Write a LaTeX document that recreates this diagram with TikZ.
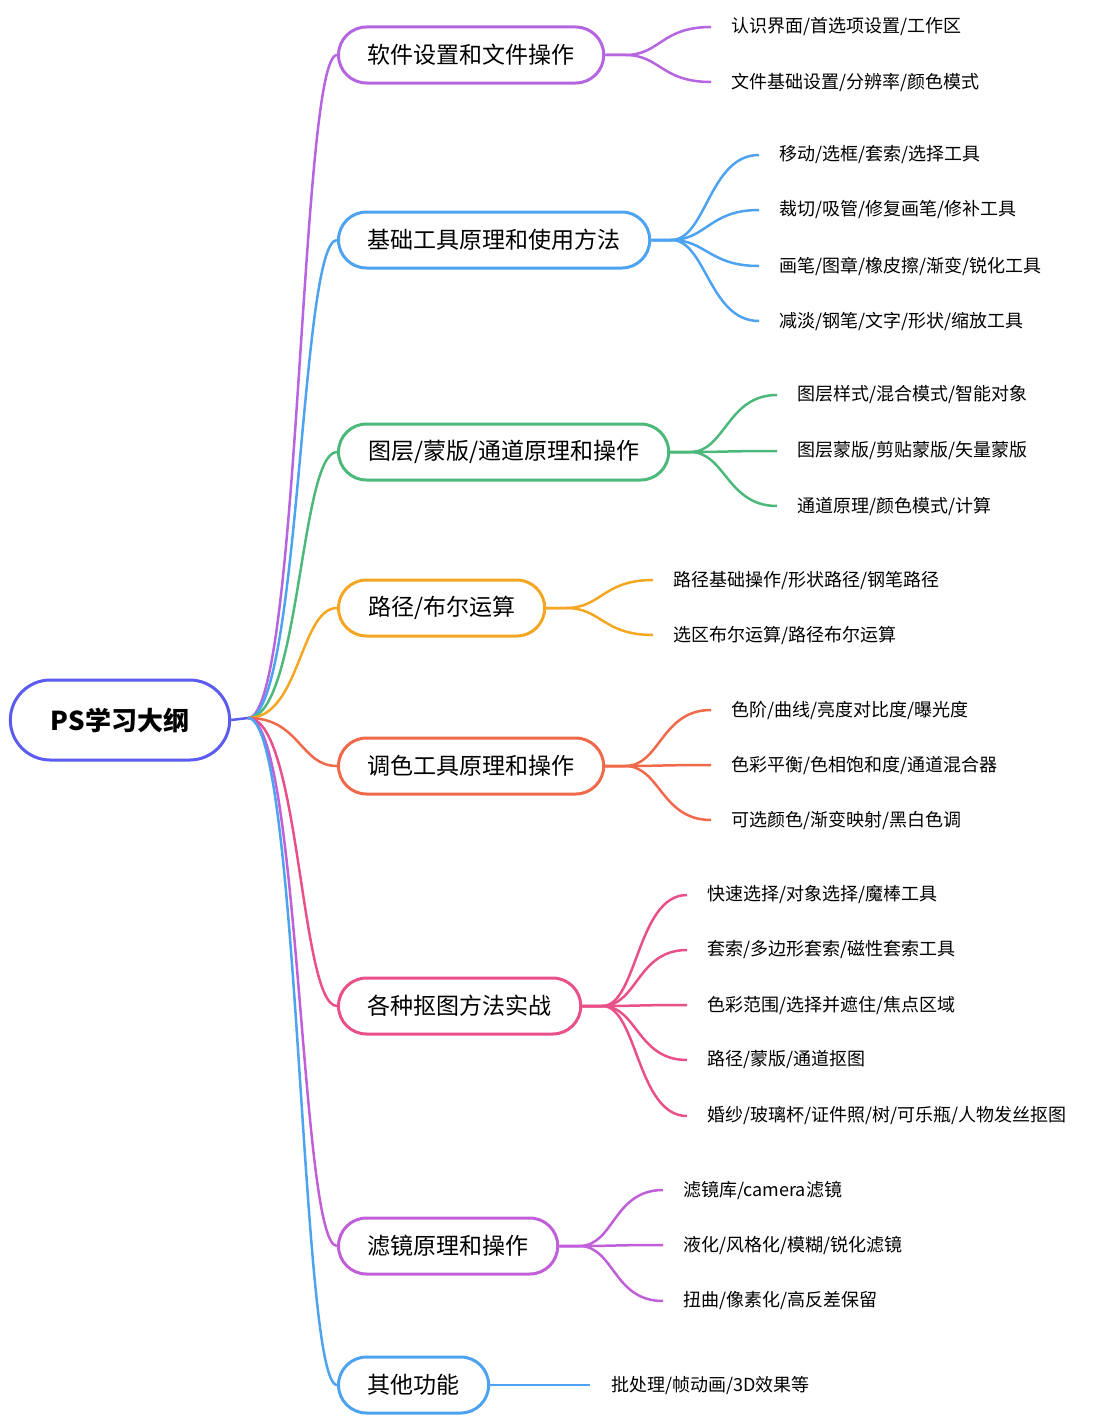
\documentclass[tikz,border=0pt]{standalone}
\usepackage{fontspec}
\setmainfont{Noto Sans CJK SC}
\usetikzlibrary{shapes.misc}
\definecolor{cRoot}{HTML}{5A5CF0}
\definecolor{cA}{HTML}{B565E0}
\definecolor{cB}{HTML}{4DA3F0}
\definecolor{cC}{HTML}{4CB87A}
\definecolor{cD}{HTML}{F5A623}
\definecolor{cE}{HTML}{F0694A}
\definecolor{cF}{HTML}{E9508A}
\definecolor{cG}{HTML}{C05FD8}
\tikzset{
 topic/.style={draw=#1,line width=3pt,rounded rectangle,fill=white,minimum height=56pt,inner xsep=27pt,font=\fontsize{23pt}{27pt}\selectfont},
 leaf/.style={anchor=west,inner sep=0pt,font=\fontsize{18pt}{22pt}\selectfont},
 link/.style={draw=#1,line width=2.5pt}
}
\newcommand{\branch}[5]{% name, color, yc, leafx, list of y/{text}
 \foreach \ly/\lt [count=\i] in {#5} {
   \node[leaf] (#1l\i) at (#4,\ly) {\lt};
   \coordinate (#1e\i) at ([xshift=-20pt]#1l\i.west);
   \path[link=#2] (#1.east) -- ([xshift=20pt]#1.east) .. controls ([xshift=55pt]#1.east) and ([xshift=-50pt]#1e\i) .. (#1e\i);
 }}
\begin{document}
\begin{tikzpicture}[x=1pt,y=-1pt]
\useasboundingbox (0,0) rectangle (1116,1421);
\node[draw=cRoot,line width=3pt,rounded rectangle,minimum width=226pt,minimum height=80pt,font=\fontsize{26pt}{30pt}\selectfont\bfseries] (root) at (120,720) {PS学习大纲};
\coordinate (rs) at (248,718);
\path[link=cRoot] (root.east) -- (rs);
\foreach \y/\c in {55/cA, 240/cB, 452/cC, 608/cD, 766/cE, 1006/cF, 1246/cG, 1385/cB}{
  \path[link=\c] (rs) .. controls (300,718) and (300,\y) .. (337,\y);
}
\node[topic=cA,anchor=west] (a) at (337,55) {软件设置和文件操作};
\node[topic=cB,anchor=west] (b) at (337,240) {基础工具原理和使用方法};
\node[topic=cC,anchor=west] (c) at (337,452) {图层/蒙版/通道原理和操作};
\node[topic=cD,anchor=west] (d) at (337,608) {路径/布尔运算};
\node[topic=cE,anchor=west] (e) at (337,766) {调色工具原理和操作};
\node[topic=cF,anchor=west] (f) at (337,1006) {各种抠图方法实战};
\node[topic=cG,anchor=west] (g) at (337,1246) {滤镜原理和操作};
\node[topic=cB,anchor=west] (h) at (337,1385) {其他功能};
\branch{a}{cA}{55}{731}{27/{认识界面/首选项设置/工作区}, 82/{文件基础设置/分辨率/颜色模式}}
\branch{b}{cB}{240}{779}{155/{移动/选框/套索/选择工具}, 210/{裁切/吸管/修复画笔/修补工具}, 266/{画笔/图章/橡皮擦/渐变/锐化工具}, 321/{减淡/钢笔/文字/形状/缩放工具}}
\branch{c}{cC}{452}{797}{395/{图层样式/混合模式/智能对象}, 451/{图层蒙版/剪贴蒙版/矢量蒙版}, 506/{通道原理/颜色模式/计算}}
\branch{d}{cD}{608}{673}{580/{路径基础操作/形状路径/钢笔路径}, 635/{选区布尔运算/路径布尔运算}}
\branch{e}{cE}{766}{731}{710/{色阶/曲线/亮度对比度/曝光度}, 765/{色彩平衡/色相饱和度/通道混合器}, 820/{可选颜色/渐变映射/黑白色调}}
\branch{f}{cF}{1006}{707}{895/{快速选择/对象选择/魔棒工具}, 950/{套索/多边形套索/磁性套索工具}, 1005/{色彩范围/选择并遮住/焦点区域}, 1060/{路径/蒙版/通道抠图}, 1116/{婚纱/玻璃杯/证件照/树/可乐瓶/人物发丝抠图}}
\branch{g}{cG}{1246}{683}{1190/{滤镜库/camera滤镜}, 1245/{液化/风格化/模糊/锐化滤镜}, 1301/{扭曲/像素化/高反差保留}}
\node[leaf] (hl1) at (611,1385) {批处理/帧动画/3D效果等};
\coordinate (he1) at (590,1385);
\path[link=cB] (h.east) -- (he1);
\end{tikzpicture}
\end{document}
